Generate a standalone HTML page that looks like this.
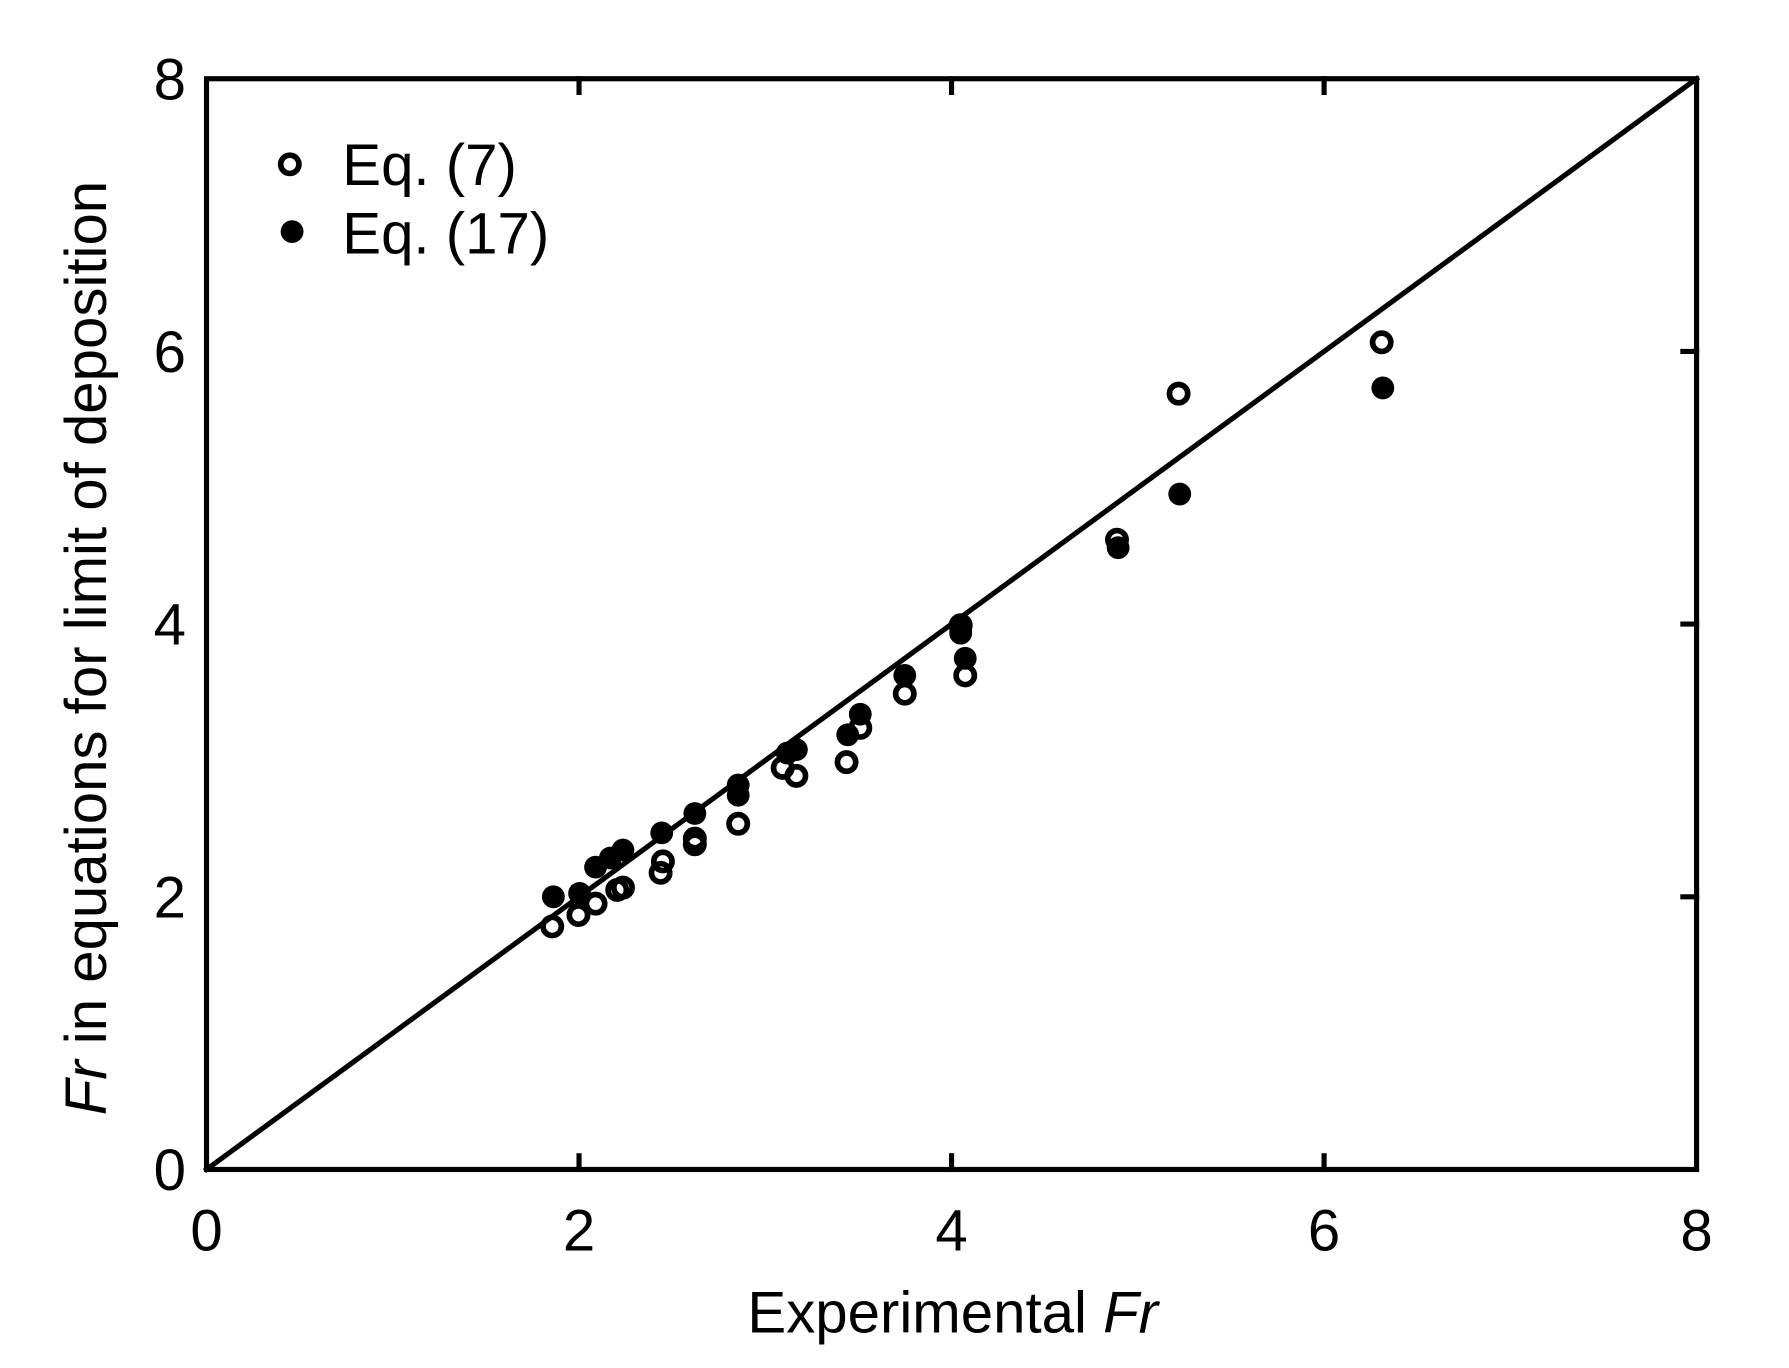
<!DOCTYPE html>
<html><head><meta charset="utf-8"><style>html,body{margin:0;padding:0;background:#fff}svg{display:block}</style></head>
<body>
<svg width="1789" height="1368" viewBox="0 0 1568 1199" xmlns="http://www.w3.org/2000/svg" font-family="Liberation Sans, Arial, sans-serif" font-size="51">
<rect x="0" y="0" width="1568" height="1199" fill="#fff"/>
<g stroke="#000" stroke-width="4.5" fill="none" stroke-linecap="square">
<rect x="181" y="69" width="1306" height="956"/>
<line x1="181" y1="1025" x2="1487" y2="69"/>
<line x1="507.5" y1="1025" x2="507.5" y2="1013"/><line x1="834" y1="1025" x2="834" y2="1013"/><line x1="1160.5" y1="1025" x2="1160.5" y2="1013"/>
<line x1="507.5" y1="69" x2="507.5" y2="81"/><line x1="834" y1="69" x2="834" y2="81"/><line x1="1160.5" y1="69" x2="1160.5" y2="81"/>
<line x1="1487" y1="786" x2="1475" y2="786"/><line x1="1487" y1="547" x2="1475" y2="547"/><line x1="1487" y1="308" x2="1475" y2="308"/>
</g>
<g text-anchor="middle">
<text x="181" y="1096">0</text><text x="507.5" y="1096">2</text><text x="834" y="1096">4</text><text x="1160.5" y="1096">6</text><text x="1487" y="1096">8</text>
</g>
<g text-anchor="end">
<text x="163" y="1043">0</text><text x="163" y="804">2</text><text x="163" y="565">4</text><text x="163" y="326">6</text><text x="163" y="87">8</text>
</g>
<text x="835" y="1168" text-anchor="middle">Experimental <tspan font-style="italic">Fr</tspan></text>
<text transform="translate(93,568) rotate(-90)" text-anchor="middle"><tspan font-style="italic">Fr</tspan> in equations for limit of deposition</text>
<circle cx="254" cy="144" r="8" fill="none" stroke="#000" stroke-width="5"/>
<circle cx="256" cy="203" r="10" fill="#000"/>
<text x="300" y="162">Eq. (7)</text>
<text x="300" y="222">Eq. (17)</text>
<g fill="none" stroke="#000" stroke-width="5">
<circle cx="484" cy="812" r="8"/><circle cx="507" cy="802" r="8"/><circle cx="522" cy="792" r="8"/><circle cx="541" cy="780" r="8"/><circle cx="546" cy="778" r="8"/><circle cx="579" cy="765" r="8"/><circle cx="581" cy="755" r="8"/><circle cx="609" cy="740" r="8"/><circle cx="609" cy="735" r="8"/><circle cx="647" cy="722" r="8"/><circle cx="686" cy="673" r="8"/><circle cx="698" cy="680" r="8"/><circle cx="742" cy="668" r="8"/><circle cx="754" cy="638" r="8"/><circle cx="793" cy="608" r="8"/><circle cx="846" cy="592" r="8"/><circle cx="842" cy="548" r="8"/><circle cx="979" cy="473" r="8"/><circle cx="1033" cy="345" r="8"/><circle cx="1211" cy="300" r="8"/>
</g>
<g fill="#000">
<circle cx="485" cy="786" r="10"/><circle cx="508" cy="783" r="10"/><circle cx="522" cy="760" r="10"/><circle cx="535" cy="752" r="10"/><circle cx="546" cy="745" r="10"/><circle cx="580" cy="730" r="10"/><circle cx="609" cy="713" r="10"/><circle cx="647" cy="688" r="10"/><circle cx="647" cy="697" r="10"/><circle cx="690" cy="660" r="10"/><circle cx="698" cy="657" r="10"/><circle cx="743" cy="644" r="10"/><circle cx="754" cy="626" r="10"/><circle cx="793" cy="592" r="10"/><circle cx="842" cy="551" r="10"/><circle cx="842" cy="555" r="10"/><circle cx="846" cy="577" r="10"/><circle cx="980" cy="480" r="10"/><circle cx="1034" cy="433" r="10"/><circle cx="1212" cy="340" r="10"/>
</g>
</svg>
</body></html>
